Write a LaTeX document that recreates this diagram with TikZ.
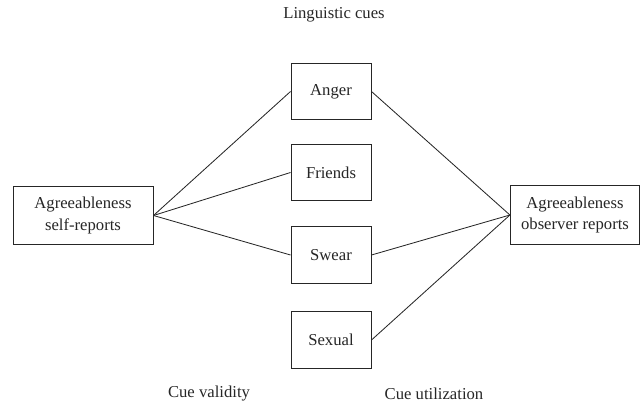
\documentclass[tikz,border=0pt]{standalone}
\usepackage{fontspec}
\setmainfont{Liberation Serif}
\usepackage{tikz}
\usetikzlibrary{positioning}
\tikzstyle{cue} = [rectangle, draw=black!85, fill=white, minimum width=48pt, minimum height=34pt, align=center, line width=0.6pt, text=black!85, font=\fontsize{10}{13}\selectfont]
\tikzstyle{report} = [rectangle, draw=black!85, fill=white, minimum height=35pt, align=center, line width=0.6pt, text=black!85, font=\fontsize{10}{13}\selectfont]
\tikzstyle{caption} = [text=black!85, font=\fontsize{10}{13}\selectfont]
\tikzstyle{link} = [draw=black!85, line width=0.5pt]

\begin{document}
\begin{tikzpicture}[x=0.6pt, y=-0.6pt]
    \useasboundingbox (0,0) rectangle (640,402);
    % Headings
    \node[caption] (ling) at (334, 15) {Linguistic cues};
    \node[caption] (valid) at (209, 394) {Cue validity};
    \node[caption] (util) at (434, 394) {Cue utilization};

    % Reports
    \node[report, minimum width=84pt] (self) at (83, 215.5) {Agreeableness\\self-reports};
    \node[report, minimum width=77.5pt] (obs) at (575, 215) {Agreeableness\\observer reports};

    % Cues
    \node[cue] (anger) at (331, 91.5) {Anger};
    \node[cue] (friends) at (331, 172.5) {Friends};
    \node[cue] (swear) at (331, 255) {Swear};
    \node[cue] (sexual) at (331, 340) {Sexual};

    % Links
    \draw[link] (self.east) -- (anger.west);
    \draw[link] (self.east) -- (friends.west);
    \draw[link] (self.east) -- (swear.west);
    \draw[link] (anger.east) -- (obs.west);
    \draw[link] (swear.east) -- (obs.west);
    \draw[link] (sexual.east) -- (obs.west);
\end{tikzpicture}
\end{document}
